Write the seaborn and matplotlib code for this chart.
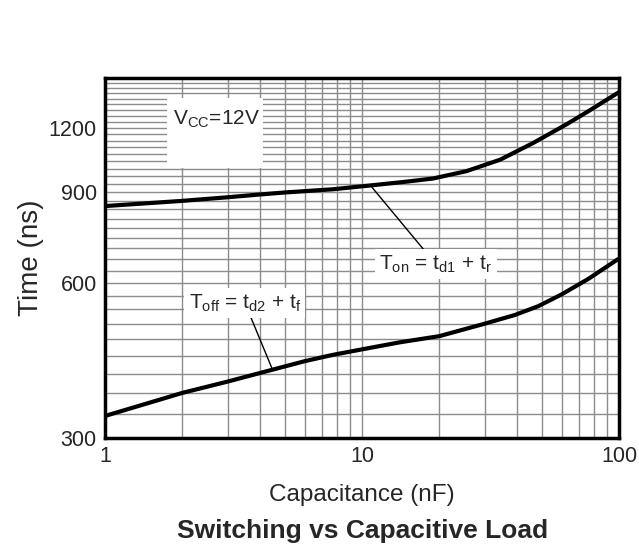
import numpy as np
import pandas as pd
import seaborn as sns
import matplotlib.pyplot as plt
from matplotlib.ticker import FixedLocator, NullFormatter, FixedFormatter

# values
on_cap = [1, 2, 3, 4, 5, 7.7, 10.4, 15, 18.9, 25.5, 34.5, 46.4, 62.6, 76, 100]
t_on = [846, 866, 880, 891, 899, 912, 926, 944, 957, 989, 1041, 1122, 1220, 1293, 1408]
off_cap = [1, 2, 3, 4, 5, 6, 7.7, 9.8, 14, 20, 30, 39.4, 48.6, 59.8, 76, 99]
t_off = [331, 367, 386, 401, 413, 423, 435, 445, 460, 473, 500, 520, 541, 570, 611, 667]

y_ticks = [300, 600, 900, 1200]
x_ticks = [1, 10, 100]

df = pd.DataFrame({"cap": on_cap + off_cap,
                   "time": t_on + t_off,
                   "curve": ["on"] * len(on_cap) + ["off"] * len(off_cap)})

sns.set_style("white")
plt.rcParams["font.family"] = ["Liberation Sans", "DejaVu Sans"]
plt.rcParams["mathtext.fontset"] = "custom"
plt.rcParams["mathtext.rm"] = "Liberation Sans"

fig = plt.figure(figsize=(6.39, 5.59), dpi=100)
ax = fig.add_axes([0.1643, 0.2165, 0.8044, 0.644])

sns.lineplot(data=df, x="cap", y="time", hue="curve", palette=["black", "black"],
             linewidth=3, legend=False, ax=ax, zorder=5, sort=False)

ax.set_xscale("log")
ax.set_yscale("log")
ax.set_xlim(1, 100)
ax.set_ylim(300, 1500)

# grid
x_minor = [m * d for d in (1, 10) for m in range(2, 10)]
y_minor = list(np.arange(300, 1500.1, 100 / 3))
ax.xaxis.set_major_locator(FixedLocator(x_ticks))
ax.xaxis.set_major_formatter(FixedFormatter([str(v) for v in x_ticks]))
ax.xaxis.set_minor_locator(FixedLocator(x_minor))
ax.xaxis.set_minor_formatter(NullFormatter())
ax.yaxis.set_major_locator(FixedLocator(y_ticks))
ax.yaxis.set_major_formatter(FixedFormatter([str(v) for v in y_ticks]))
ax.yaxis.set_minor_locator(FixedLocator(y_minor))
ax.yaxis.set_minor_formatter(NullFormatter())
ax.grid(which="both", color="#8c8c8c", linewidth=1.0)
ax.tick_params(which="both", length=0, labelsize=15.5)
ax.tick_params(axis="y", pad=6)
ax.tick_params(axis="x", pad=6)

for s in ax.spines.values():
    s.set_linewidth(2.5)
    s.set_color("black")
    s.set_zorder(6)

ax.set_xlabel("Capacitance (nF)", fontsize=17.5)
ax.xaxis.set_label_coords(0.5, -0.128)
ax.set_ylabel("Time (ns)", fontsize=20)
ax.yaxis.set_label_coords(-0.118, 0.5)
fig.text(0.568, 0.05, "Switching vs Capacitive Load", fontsize=19,
         fontweight="bold", ha="center", va="center")

box = dict(facecolor="white", edgecolor="none", pad=3)
ax.text(1.84, 1250, r"V$_{\mathregular{CC}}$=12V", fontsize=15, ha="left",
        va="center", zorder=4)
# blank panel behind the V_CC note
ax.axvspan(1.743, 4.12, ymin=0.75, ymax=0.944, color="white", zorder=3, lw=0)

ax.annotate(r"T$_{\mathregular{on}}$ = t$_{\mathregular{d1}}$ + t$_{\mathregular{r}}$",
            xy=(10.9, 922), xytext=(19.4, 652), fontsize=15, ha="center", va="center",
            bbox=box, zorder=4,
            arrowprops=dict(arrowstyle="-", color="black", lw=1, shrinkA=0, shrinkB=0))
ax.annotate(r"T$_{\mathregular{off}}$ = t$_{\mathregular{d2}}$ + t$_{\mathregular{f}}$",
            xy=(4.46, 410), xytext=(3.5, 549), fontsize=15, ha="center", va="center",
            bbox=box, zorder=4,
            arrowprops=dict(arrowstyle="-", color="black", lw=1, shrinkA=0, shrinkB=0))

fig.savefig("out.png", dpi=100)
